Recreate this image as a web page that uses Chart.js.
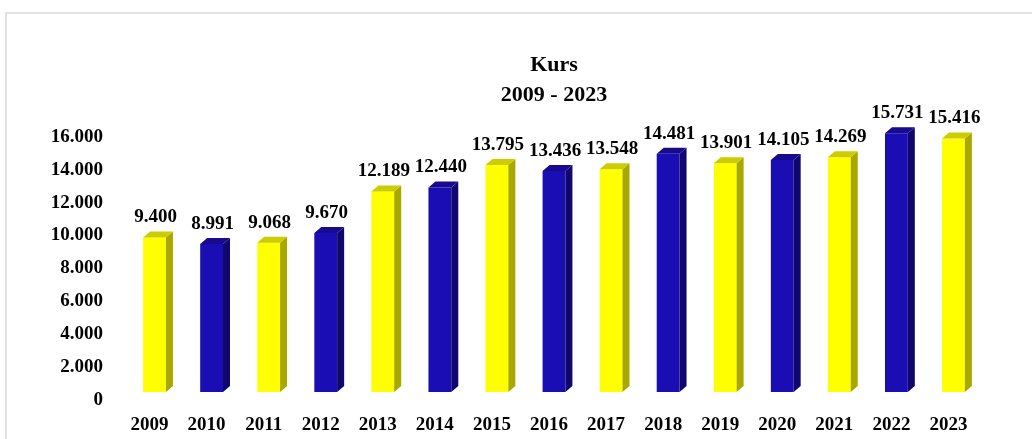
<!DOCTYPE html>
<html>
<head>
<meta charset="utf-8">
<script src="https://cdn.jsdelivr.net/npm/chart.js@4/dist/chart.umd.min.js"></script>
<style>
  html, body { margin: 0; padding: 0; background: #ffffff; }
  #wrap { position: relative; width: 1032px; height: 439px; overflow: hidden; }
  #frame { position: absolute; left: 5px; top: 12px; width: 1100px; height: 500px;
           border: 2px solid #e2e2e2; box-sizing: border-box; pointer-events: none; }
  canvas { position: absolute; left: 0; top: 0; }
</style>
</head>
<body>
<div id="wrap">
  <div id="frame"></div>
  <canvas id="c" width="1032" height="439"></canvas>
</div>
<script>
// ---- data ----
const categories = ["2009","2010","2011","2012","2013","2014","2015","2016","2017","2018","2019","2020","2021","2022","2023"];
const kursValues = [9400, 8991, 9068, 9670, 12189, 12440, 13795, 13436, 13548, 14481, 13901, 14105, 14269, 15731, 15416];
const titleLines = ["Kurs", "2009 - 2023"];
const yTickMax = 16000;
const yTickStep = 2000;

// ---- styles ----
const FONT = "'Liberation Serif', 'Times New Roman', serif";
const palette = {
  yellow: { front: "#FFFF00", side: "#A8A800", top: "#CCCC00" },
  blue:   { front: "#1A0DB3", side: "#10076C", top: "#170A8E" }
};
function paletteFor(i) { return i % 2 === 0 ? palette.yellow : palette.blue; }
function fmt(v) { return String(v).replace(/\B(?=(\d{3})+(?!\d))/g, "."); }

const depthX = 7, depthY = 6;

const bar3d = {
  id: "bar3d",
  afterDatasetsDraw(chart) {
    const ctx = chart.ctx;
    const meta = chart.getDatasetMeta(0);
    ctx.save();
    meta.data.forEach((bar, i) => {
      const p = bar.getProps(["x", "y", "base", "width"], true);
      const left = p.x - p.width / 2, right = p.x + p.width / 2;
      const col = paletteFor(i);
      ctx.fillStyle = col.side;
      ctx.beginPath();
      ctx.moveTo(right, p.y);
      ctx.lineTo(right + depthX, p.y - depthY);
      ctx.lineTo(right + depthX, p.base - depthY);
      ctx.lineTo(right, p.base);
      ctx.closePath();
      ctx.fill();
      ctx.fillStyle = col.top;
      ctx.beginPath();
      ctx.moveTo(left, p.y);
      ctx.lineTo(left + depthX, p.y - depthY);
      ctx.lineTo(right + depthX, p.y - depthY);
      ctx.lineTo(right, p.y);
      ctx.closePath();
      ctx.fill();
    });
    ctx.fillStyle = "#000000";
    ctx.font = "bold 19px " + FONT;
    ctx.textAlign = "center";
    ctx.textBaseline = "middle";
    meta.data.forEach((bar, i) => {
      const p = bar.getProps(["x", "y"], true);
      ctx.fillText(fmt(kursValues[i]), p.x + 1, p.y - 20);
    });
    ctx.restore();
  }
};

new Chart(document.getElementById("c"), {
  type: "bar",
  data: {
    labels: categories,
    datasets: [{
      label: "Kurs",
      data: kursValues,
      backgroundColor: kursValues.map((v, i) => paletteFor(i).front),
      borderWidth: 0,
      categoryPercentage: 1.0,
      barPercentage: 0.40
    }]
  },
  options: {
    responsive: false,
    animation: false,
    devicePixelRatio: 1,
    layout: { padding: { left: 51, right: 50, top: 0, bottom: 0 } },
    plugins: {
      legend: { display: false },
      tooltip: { enabled: false },
      title: {
        display: true,
        text: titleLines,
        fullSize: false,
        color: "#000000",
        font: { family: FONT, size: 22, weight: "bold", lineHeight: 1.36 },
        padding: { top: 50, bottom: 19 }
      }
    },
    scales: {
      x: {
        grid: { display: false, drawTicks: false },
        border: { display: false },
        afterFit(scale) { scale.height = 47; },
        ticks: {
          color: "#000000",
          font: { family: FONT, size: 19, weight: "bold" },
          padding: 22,
          labelOffset: -5,
          maxRotation: 0,
          autoSkip: false
        }
      },
      y: {
        min: 0,
        max: yTickMax,
        grid: { display: false, drawTicks: false },
        border: { display: false },
        afterFit(scale) { scale.width = 75; scale.paddingTop = 0; scale.paddingBottom = 0; },
        ticks: {
          stepSize: yTickStep,
          color: "#000000",
          font: { family: FONT, size: 19, weight: "bold" },
          padding: 23,
          labelOffset: 8,
          callback: (v) => fmt(v)
        }
      }
    }
  },
  plugins: [bar3d]
});
</script>
</body>
</html>
